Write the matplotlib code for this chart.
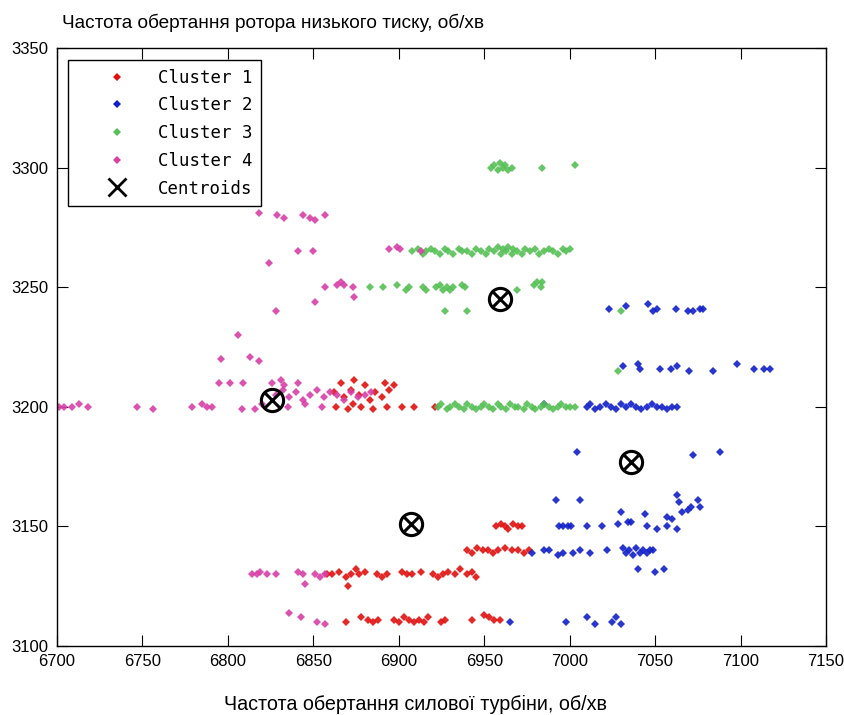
import matplotlib
matplotlib.use('Agg')
import matplotlib.pyplot as plt
from matplotlib.lines import Line2D

# Cluster 1 (red)
c1_x = [6866, 6874, 6880, 6892, 6897,
        6862, 6868, 6872, 6877, 6883, 6886, 6890, 6894,
        6863, 6870, 6873, 6878, 6885, 6893, 6902, 6909, 6921,
        6957, 6960, 6962, 6964, 6967, 6970, 6972,
        6940, 6943, 6946, 6949, 6952, 6955, 6958, 6962, 6966, 6970, 6973, 6976,
        6858, 6861, 6865, 6869, 6872, 6875, 6877, 6880, 6887, 6890, 6893, 6902,
        6905, 6908, 6913, 6920, 6923, 6926, 6929, 6933, 6936, 6940, 6943, 6945,
        6870,
        6869, 6878, 6882, 6885, 6888, 6897, 6900, 6903, 6906, 6909, 6912, 6915,
        6917, 6925, 6927, 6943, 6950, 6953, 6956, 6959]
c1_y = [3210, 3211, 3209, 3210, 3209,
        3206, 3204, 3207, 3205, 3203, 3206, 3204, 3207,
        3200, 3199, 3201, 3200, 3199, 3200, 3200, 3200, 3200,
        3150, 3151, 3150, 3149, 3151, 3150, 3150,
        3140, 3139, 3141, 3140, 3140, 3139, 3140, 3141, 3140, 3140, 3139, 3140,
        3130, 3130, 3131, 3129, 3130, 3132, 3130, 3131, 3130, 3129, 3130, 3131,
        3130, 3130, 3131, 3130, 3129, 3130, 3131, 3130, 3132, 3130, 3131, 3129,
        3125,
        3110, 3112, 3111, 3110, 3111, 3111, 3110, 3112, 3111, 3110, 3111, 3110,
        3112, 3110, 3111, 3111, 3113, 3112, 3111, 3111]

# Cluster 2 (blue)
c2_x = [7023, 7033, 7046, 7049, 7051, 7062, 7069, 7072, 7076, 7078,
        7031, 7040, 7041, 7053, 7059, 7063, 7070, 7084, 7098, 7108, 7114, 7117,
        6985, 7010, 7012, 7015, 7018, 7021, 7024, 7027, 7030, 7033, 7036, 7039,
        7042, 7045, 7048, 7051, 7054, 7057, 7060, 7063,
        7004, 7072, 7088,
        6992, 7006, 7063, 7064, 7075,
        7030, 7044, 7057, 7060, 7066, 7069, 7071, 7076,
        6994, 6996, 6999, 7001, 7010, 7019, 7028, 7034, 7036, 7045, 7051, 7057, 7063,
        6978, 6985, 6988, 6993, 6996, 7002, 7006, 7012, 7022, 7031, 7033, 7035,
        7037, 7039, 7041, 7043, 7045, 7047, 7049,
        7040, 7050, 7055,
        6965, 6998, 7010, 7015, 7025, 7027, 7030]
c2_y = [3241, 3242, 3243, 3240, 3241, 3241, 3240, 3240, 3241, 3241,
        3217, 3218, 3216, 3216, 3216, 3217, 3215, 3215, 3218, 3216, 3216, 3216,
        3201, 3200, 3201, 3199, 3200, 3201, 3200, 3199, 3201, 3200, 3201, 3200,
        3199, 3200, 3201, 3200, 3200, 3199, 3200, 3200,
        3181, 3180, 3181,
        3161, 3161, 3163, 3160, 3161,
        3156, 3155, 3154, 3153, 3156, 3157, 3158, 3158,
        3150, 3150, 3150, 3150, 3150, 3150, 3151, 3152, 3152, 3150, 3149, 3150, 3149,
        3139, 3140, 3140, 3138, 3139, 3139, 3140, 3139, 3140, 3141, 3139, 3140,
        3138, 3141, 3139, 3140, 3139, 3140, 3140,
        3132, 3131, 3132,
        3110, 3110, 3112, 3109, 3110, 3112, 3109]

# Cluster 3 (green)
c3_x = [6954, 6956, 6958, 6959, 6961, 6962, 6964, 6966, 6984, 7003,
        6908, 6911, 6914, 6916, 6919, 6921, 6924, 6927, 6929, 6932, 6935, 6937,
        6940, 6943, 6945, 6948, 6951, 6953, 6956, 6958, 6960, 6961, 6963, 6964,
        6966, 6967, 6969, 6972, 6974, 6977, 6980, 6982, 6985, 6988, 6990, 6993,
        6996, 6998, 7000,
        6883, 6891, 6899, 6904, 6906, 6914, 6916, 6922, 6924, 6926, 6928, 6930,
        6932, 6937, 6939, 6969, 6979, 6981, 6983, 6984,
        6927, 6940, 7030, 7028,
        6923, 6925, 6928, 6930, 6933, 6935, 6938, 6940, 6943, 6945, 6948, 6950,
        6953, 6955, 6958, 6960, 6963, 6965, 6968, 6970, 6973, 6975, 6978, 6980,
        6983, 6985, 6988, 6990, 6993, 6995, 6998, 7000, 7003]
c3_y = [3300, 3301, 3299, 3302, 3300, 3301, 3299, 3300, 3300, 3301,
        3265, 3266, 3264, 3265, 3266, 3265, 3264, 3266, 3265, 3264, 3266, 3265,
        3265, 3264, 3266, 3265, 3264, 3266, 3265, 3267, 3264, 3266, 3265, 3267,
        3264, 3266, 3265, 3264, 3266, 3265, 3266, 3264, 3265, 3266, 3265, 3264,
        3266, 3265, 3266,
        3250, 3250, 3251, 3249, 3250, 3250, 3249, 3250, 3251, 3249, 3250, 3249,
        3250, 3251, 3250, 3249, 3251, 3252, 3250, 3252,
        3240, 3240, 3240, 3215,
        3200, 3201, 3199, 3200, 3201, 3200, 3199, 3201, 3200, 3199, 3200, 3201,
        3200, 3199, 3201, 3200, 3199, 3201, 3200, 3200, 3199, 3201, 3200, 3199,
        3200, 3201, 3200, 3199, 3200, 3201, 3200, 3200, 3200]

# Cluster 4 (magenta)
c4_x = [6818, 6829, 6833, 6844, 6848, 6851, 6857,
        6841, 6850, 6894, 6899, 6901, 6913,
        6824,
        6857, 6864, 6866, 6868, 6873, 6874, 6851,
        6828, 6806,
        6796, 6813, 6818,
        6795, 6801, 6809, 6826, 6831, 6833, 6841,
        6828, 6832, 6836, 6840, 6844, 6848, 6852, 6856, 6860, 6864, 6868, 6872,
        6876, 6880, 6884,
        6701, 6704, 6709, 6713, 6718, 6747, 6756, 6779, 6785, 6788, 6791, 6808,
        6816, 6820, 6835, 6845, 6855,
        6814, 6817, 6819, 6823, 6828, 6841, 6844, 6851, 6854, 6857,
        6845,
        6836, 6843, 6852, 6857]
c4_y = [3281, 3280, 3279, 3280, 3279, 3278, 3280,
        3265, 3265, 3266, 3267, 3266, 3265,
        3260,
        3250, 3251, 3252, 3251, 3250, 3246, 3244,
        3240, 3230,
        3220, 3221, 3219,
        3210, 3210, 3210, 3210, 3211, 3209, 3210,
        3205, 3207, 3204, 3206, 3203, 3205, 3207, 3204, 3206, 3205, 3203, 3206,
        3204, 3205, 3206,
        3200, 3200, 3200, 3201, 3200, 3200, 3199, 3200, 3201, 3200, 3200, 3199,
        3199, 3201, 3200, 3201, 3200,
        3130, 3130, 3131, 3130, 3130, 3131, 3130, 3130, 3129, 3130,
        3126,
        3114, 3112, 3110, 3109]

cent_x = [6907, 7036, 6959, 6826]
cent_y = [3151, 3177, 3245, 3203]

labels = ['Cluster 1', 'Cluster 2', 'Cluster 3', 'Cluster 4', 'Centroids']
colors = ['#e01010', '#1020c8', '#55c055', '#d840a8']

plt.rcParams['font.family'] = ['Liberation Sans', 'DejaVu Sans']

fig = plt.figure(figsize=(8.44, 7.15), dpi=100)
ax = fig.add_axes([0.0675, 0.0965, 0.9112, 0.8364])

clusters = [(c1_x, c1_y), (c2_x, c2_y), (c3_x, c3_y), (c4_x, c4_y)]
for (xs, ys), c in zip(clusters, colors):
    ax.plot(xs, ys, 'D', color=c, markersize=4.3, markeredgewidth=0, alpha=0.9)

# centroids: circle with a cross inside
ax.plot(cent_x, cent_y, 'o', markersize=16, markerfacecolor='none',
        markeredgecolor='k', markeredgewidth=2.2)
ax.plot(cent_x, cent_y, 'x', markersize=9.5, color='k', markeredgewidth=2.2)

ax.set_xlim(6700, 7150)
ax.set_ylim(3100, 3350)
ax.set_xticks(range(6700, 7151, 50))
ax.set_yticks(range(3100, 3351, 50))
ax.tick_params(direction='in', top=True, right=True, length=8, labelsize=12, pad=6)
for s in ax.spines.values():
    s.set_linewidth(1.0)

handles = [Line2D([], [], ls='none', marker='D', markersize=4.5, markeredgewidth=0, color=c)
           for c in colors]
handles.append(Line2D([], [], ls='none', marker='x', markersize=13, markeredgewidth=2, color='k'))
leg = ax.legend(handles, labels, loc='upper left', bbox_to_anchor=(0.0143, 0.98),
                borderaxespad=0, prop={'family': 'DejaVu Sans Mono', 'size': 12.5},
                fancybox=False, edgecolor='k', framealpha=1, labelspacing=0.56,
                handlelength=4.6, handletextpad=0.1, borderpad=0.5)
leg.get_frame().set_linewidth(1.0)

fig.text(0.073, 0.968, 'Частота обертання ротора низького тиску, об/хв', fontsize=13.7,
         ha='left', va='center')
fig.text(0.492, 0.015, 'Частота обертання силової турбіни, об/хв', fontsize=14.2,
         ha='center', va='center')

fig.savefig('out.png', dpi=100)
